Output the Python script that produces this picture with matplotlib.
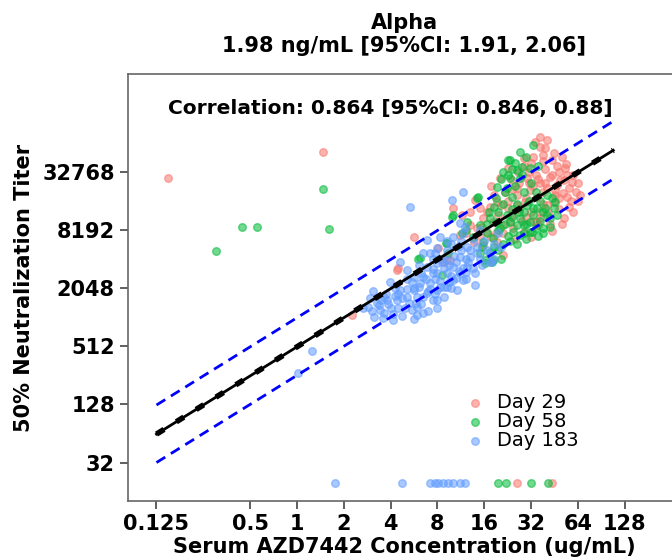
import numpy as np
import matplotlib
matplotlib.use("Agg")
import matplotlib.pyplot as plt

# values, as log2(concentration ug/mL) and log2(titer)
# Day 29
d29_lx = [-2.75, 0.55, 1.17, 2.16, 2.13, 2.49, 3.02, 3.27, 3.13, 3.20, 3.48, 3.34, 3.52,
          3.70, 3.77, 3.84, 3.80, 3.91, 3.98, 3.98, 4.05, 4.12, 4.19, 4.27, 4.27, 4.34,
          4.41, 4.41, 4.51, 4.51, 4.59, 4.62, 4.69, 4.69, 4.73, 4.84, 4.84, 4.87, 4.91,
          4.98, 5.05, 5.09, 5.12, 5.12, 5.19, 5.19, 5.26, 5.26, 5.37, 5.48, 5.48, 5.51,
          5.62, 5.69, 5.73, 5.76, 5.76, 5.87,
          4.70, 4.95, 5.10, 5.30, 5.40, 5.55, 5.00, 5.25, 5.40, 5.60, 5.70, 5.85, 5.95,
          4.45, 4.30, 4.60, 4.80, 4.05, 3.90, 4.15, 5.55, 5.20, 4.85, 5.00, 5.35, 5.15,
          4.40, 3.60, 5.90, 6.00, 6.05,
          4.50, 4.60, 4.75, 4.90, 5.05, 5.15, 5.30, 5.45, 5.60, 5.70, 5.80, 5.50, 5.35,
          5.20, 5.05, 4.90, 4.75, 4.55, 4.35, 4.20, 4.95, 5.25, 5.45, 5.65, 5.35, 5.20,
          5.60, 5.80, 5.90, 5.65, 5.45, 5.00, 4.65, 4.25, 3.95, 3.70, 4.15, 5.75, 6.00, 5.30,
          4.69, 5.44]
d29_ly = [14.79, 15.67, 10.07, 11.68, 11.62, 12.77, 12.37, 11.96, 11.91, 12.14, 12.83, 13.74, 13.51,
          13.17, 12.59, 13.05, 14.03, 13.74, 13.40, 12.48, 12.94, 13.80, 13.28, 13.97, 12.59, 14.77,
          13.17, 12.14, 13.74, 15.11, 14.72, 13.05, 14.43, 13.86, 15.00, 15.46, 12.94, 13.97, 14.77,
          14.38, 15.52, 16.03, 14.14, 13.28, 15.86, 13.40, 15.57, 14.31, 13.57, 15.63, 13.97, 14.38,
          14.72, 14.26, 15.11, 14.89, 14.14, 14.66,
          14.20, 14.60, 14.90, 15.10, 14.80, 15.20, 13.60, 13.90, 13.20, 13.70, 13.40, 14.00, 14.30,
          14.30, 13.50, 13.50, 13.30, 13.60, 12.80, 12.75, 14.55, 14.60, 15.20, 15.30, 14.45, 13.15,
          12.90, 12.90, 14.90, 14.60, 14.20,
          14.00, 14.40, 14.60, 14.10, 14.50, 14.75, 14.60, 14.90, 15.00, 14.70, 14.45, 14.20, 13.85,
          13.60, 13.30, 13.45, 13.70, 13.30, 13.85, 14.20, 15.00, 15.35, 15.40, 15.50, 16.10, 16.20,
          14.10, 13.80, 13.60, 13.20, 12.95, 12.75, 12.70, 12.90, 13.10, 13.60, 14.50, 15.25, 14.00, 15.80,
          4.30, 4.30]

# Day 58
d58_lx = [-1.72, -1.18, -0.86, 0.55, 0.68, 2.59, 2.63, 3.09, 3.18, 3.20, 3.23, 3.31, 3.34,
          3.52, 3.63, 3.84, 3.87, 3.91, 3.91, 3.98, 4.02, 4.02, 4.12, 4.12, 4.16, 4.19, 4.19,
          4.27, 4.27, 4.30, 4.34, 4.48, 4.48, 4.51, 4.55, 4.55, 4.55, 4.59, 4.62, 4.69, 4.69,
          4.76, 4.76, 4.76, 4.76, 4.80, 4.84, 4.84, 4.91, 4.98, 4.98, 4.98, 5.01, 5.05, 5.05,
          5.12, 5.26, 5.26, 5.30, 5.34, 5.41, 5.44, 5.48,
          4.40, 4.60, 4.70, 4.85, 4.95, 5.10, 4.50, 4.65, 4.40, 4.25, 4.05, 4.20, 4.40, 4.55,
          4.90, 5.15, 5.20, 5.50, 4.35,
          4.30, 4.45, 4.60, 4.75, 4.90, 5.05, 5.20, 5.35, 4.65, 4.80, 4.35, 4.20, 4.05, 3.95,
          4.50, 4.70, 4.85, 5.10, 5.25, 5.40, 4.60, 4.90, 4.45, 3.75, 3.60, 5.00, 5.15, 4.30,
          4.10, 5.55,
          4.30, 4.47, 4.99, 5.37]
d58_ly = [12.26, 13.09, 13.09, 14.42, 13.04, 11.99, 12.02, 11.45, 12.54, 12.53, 12.20, 13.45, 13.51,
          12.88, 13.28, 14.09, 14.14, 13.17, 12.20, 12.59, 11.96, 11.85, 13.40, 12.25, 11.91, 12.71, 11.96,
          14.48, 13.28, 13.63, 13.05, 14.43, 13.51, 15.40, 15.40, 14.77, 13.28, 14.14, 12.94, 15.06, 13.17,
          15.69, 14.77, 13.40, 12.83, 15.17, 14.31, 13.17, 13.86, 15.11, 12.94, 13.28, 12.94, 15.91, 13.51,
          13.74, 13.63, 13.05, 13.74, 13.51, 13.40, 14.09, 13.74,
          13.90, 13.70, 13.90, 13.60, 14.00, 14.30, 14.90, 15.30, 15.00, 14.10, 13.20, 12.40, 12.50, 12.60,
          12.70, 12.80, 13.30, 13.95, 12.00,
          13.00, 13.20, 13.45, 13.60, 13.20, 13.75, 14.00, 14.20, 14.50, 14.90, 14.75, 13.80, 12.90, 12.40,
          12.80, 12.50, 12.90, 13.05, 12.90, 13.10, 15.10, 15.50, 14.30, 12.75, 13.00, 14.60, 15.20, 12.30,
          13.60, 13.50,
          4.30, 4.30, 4.30, 4.30]

# Day 183
d183_lx = [0.03, 0.32, 1.63, 1.99, 1.77, 1.92, 2.13, 2.16, 1.84, 2.06, 2.56, 2.70, 2.56,
           2.34, 2.49, 2.70, 2.91, 3.13, 2.99, 3.20, 3.34, 3.48, 3.63, 2.20, 2.34, 2.41,
           2.77, 2.99, 3.06, 3.31, 3.55, 3.48, 3.34, 3.48, 3.63, 1.52, 1.70, 2.09, 2.77,
           2.91, 3.06, 2.84, 3.20, 3.41, 3.55, 2.63, 2.56, 2.20, 2.49, 3.34, 3.20, 2.99,
           2.77, 3.59, 2.84,
           3.10, 3.20, 3.30, 3.40, 3.50, 3.60, 3.70, 3.75, 3.85, 3.90, 4.00, 4.10, 4.15,
           3.00, 3.15, 3.25, 3.45, 3.65, 3.80, 2.90, 2.60, 2.50, 2.40, 2.30, 2.00, 1.90,
           1.60, 1.40, 2.80, 2.65, 3.00, 2.95, 3.30, 3.55, 1.80, 1.55, 2.25, 2.45, 2.70,
           3.90, 4.20, 4.30, 4.12,
           1.65, 1.75, 1.85, 1.95, 2.05, 2.15, 2.25, 2.35, 2.45, 2.55, 2.60, 2.70, 2.75,
           2.85, 2.90, 2.95, 3.05, 3.10, 3.15, 3.25, 3.35, 3.40, 3.50, 3.60, 3.70, 3.75,
           3.85, 3.95, 4.05, 3.45, 3.55, 3.20, 2.95, 2.65, 2.35, 2.10, 1.85, 2.50, 2.80,
           3.00, 3.30, 3.60, 3.80, 4.20, 4.35,
           0.82, 2.24, 2.84, 2.95, 3.01, 3.12, 3.23, 3.33, 3.48, 3.59]
d183_ly = [8.07, 8.82, 10.91, 11.19, 10.25, 10.59, 10.59, 10.31, 9.96, 9.90, 10.07, 10.13, 10.36,
           10.70, 10.93, 11.39, 11.51, 10.70, 10.93, 11.05, 11.28, 11.51, 11.73, 11.91, 11.62, 13.80,
           12.65, 12.37, 12.77, 14.03, 14.31, 13.23, 12.77, 12.08, 12.42, 10.36, 10.48, 10.72, 10.82,
           10.59, 11.05, 11.16, 11.51, 10.93, 11.28, 11.16, 10.70, 10.93, 11.39, 11.73, 11.96, 11.85,
           11.73, 13.11, 12.19,
           12.00, 12.30, 12.50, 11.90, 12.60, 12.00, 12.30, 12.70, 12.40, 12.00, 12.60, 12.20, 11.90,
           11.50, 11.70, 11.20, 11.60, 11.90, 11.50, 12.00, 11.80, 11.00, 10.50, 10.30, 10.30, 10.80,
           10.20, 10.30, 10.90, 10.45, 10.30, 11.30, 11.40, 11.70, 10.60, 10.65, 10.65, 11.20, 12.20,
           13.00, 12.50, 12.90, 11.91,
           10.00, 10.40, 10.15, 10.45, 10.10, 10.80, 10.05, 10.95, 10.25, 10.50, 11.05, 10.70, 11.30,
           10.95, 11.65, 10.80, 11.25, 11.90, 11.05, 11.80, 12.10, 11.35, 12.30, 11.55, 12.05, 11.70,
           12.20, 11.80, 12.30, 12.45, 12.90, 12.60, 12.20, 11.50, 11.30, 11.00, 10.70, 9.95, 10.20,
           10.60, 11.00, 11.30, 11.10, 12.00, 12.40,
           4.30, 4.30, 4.30, 4.30, 4.30, 4.30, 4.30, 4.30, 4.30, 4.30]

# fitted line (IC50 1.98 ng/mL) and its +/- bands
fit_conc = [0.125, 108]
fit_titer = [63, 54500]
band_upper = [126, 109000]
band_lower = [32, 27500]

groups = ["Day 29", "Day 58", "Day 183"]
colors = ["#F8766D", "#00BA38", "#619CFF"]
xticks = [0.125, 0.5, 1, 2, 4, 8, 16, 32, 64, 128]
yticks = [32, 128, 512, 2048, 8192, 32768]

fig = plt.figure(figsize=(6.72, 5.6), dpi=100)
ax = fig.add_axes([0.1905, 0.1054, 0.8214, 0.7625])

series = [(d29_lx, d29_ly), (d58_lx, d58_ly), (d183_lx, d183_ly)]
for (lx, ly), name, c in zip(series, groups, colors):
    ax.scatter(np.exp2(lx), np.exp2(ly), s=30, color=c, alpha=0.55, label=name, zorder=2)

ax.plot(fit_conc, fit_titer, color="black", lw=2, zorder=3)
ax.plot(fit_conc, fit_titer, color="black", lw=4, ls=(0, (1.6, 2.6)), zorder=3)
ax.plot(fit_conc, band_upper, color="blue", lw=2, ls=(0, (3.7, 2.4)), zorder=3)
ax.plot(fit_conc, band_lower, color="blue", lw=2, ls=(0, (3.7, 2.4)), zorder=3)

ax.set_xscale("log", base=2)
ax.set_yscale("log", base=2)
ax.set_xlim(0.082, 290)
ax.set_ylim(12.8, 336000)
ax.set_xticks(xticks)
ax.set_xticklabels([str(t) for t in xticks])
ax.set_yticks(yticks)
ax.set_yticklabels([str(t) for t in yticks])
ax.minorticks_off()
ax.tick_params(length=6, width=1.2, color="#444444", labelsize=15)
for lab in ax.get_xticklabels() + ax.get_yticklabels():
    lab.set_fontweight("bold")
for sp in ax.spines.values():
    sp.set_color("#666666")
    sp.set_linewidth(1.2)

ax.set_xlabel("Serum AZD7442 Concentration (ug/mL)", fontsize=15, fontweight="bold", labelpad=2)
ax.set_ylabel("50% Neutralization Titer", fontsize=15, fontweight="bold", labelpad=6)
ax.set_title("Alpha\n1.98 ng/mL [95%CI: 1.91, 2.06]", fontsize=15, fontweight="bold", pad=16)
ax.text(0.476, 0.92, "Correlation: 0.864 [95%CI: 0.846, 0.88]", transform=ax.transAxes,
        ha="center", va="center", fontsize=14.5, fontweight="bold")

ax.legend(loc="upper left", bbox_to_anchor=(0.595, 0.252), frameon=False, fontsize=14,
          labelspacing=0.0, handletextpad=0.2, handlelength=1.9, borderaxespad=0, borderpad=0)

fig.savefig("out.png", dpi=100)
